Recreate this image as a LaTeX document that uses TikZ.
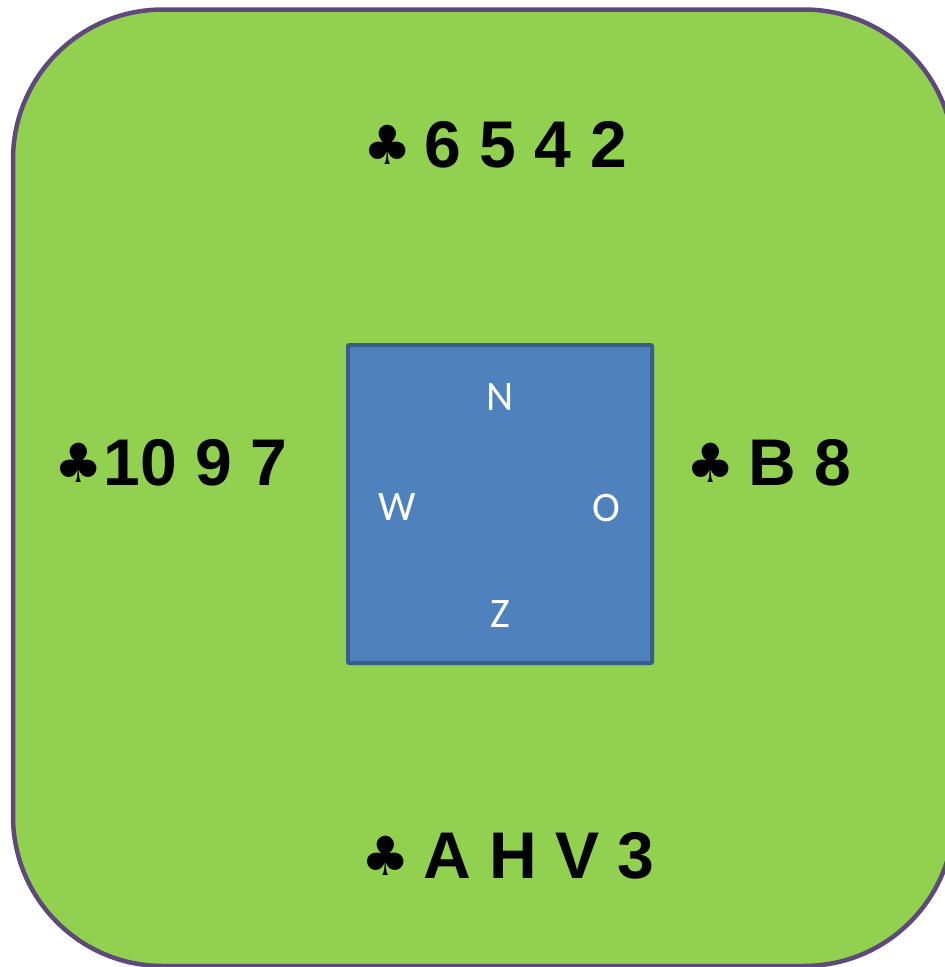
\documentclass[tikz,border=0pt]{standalone}
\usepackage{fontspec}
\setmainfont{Liberation Sans}
\newfontfamily\compassfont{Carlito}
\newfontfamily\suitfont{DejaVu Sans}
\definecolor{feltgreen}{HTML}{92D050}
\definecolor{feltborder}{HTML}{5F497A}
\definecolor{tableblue}{HTML}{4F81BD}
\definecolor{tableborder}{HTML}{385D8A}
\newcommand{\clubsym}{{\suitfont\fontsize{54}{60}\selectfont\raisebox{3pt}{♣}}\kern-5pt}

\begin{document}
\begin{tikzpicture}[x=1pt, y=-1pt,
  hand/.style={inner sep=0pt, anchor=base, font=\bfseries\fontsize{66}{80}\selectfont},
  seat/.style={inner sep=0pt, anchor=base, text=white, font=\compassfont\fontsize{42}{50}\selectfont},
  felt/.style={fill=feltgreen, draw=feltborder, line width=4.5pt, rounded corners=150pt},
  table_sq/.style={fill=tableblue, draw=tableborder, line width=4pt, minimum width=304pt, minimum height=318pt, inner sep=0pt, rounded corners=1pt}]

\useasboundingbox (0,0) rectangle (945,967);
\clip (0,0) rectangle (945,967);

\draw[felt] (13,9.5) rectangle (954,966);

\node[table_sq] (table) at (500,504) {};

\node[seat] (n) at (500,410) {N};
\node[seat] (w) at (397.5,520) {W};
\node[seat] (o) at (606,521) {O};
\node[seat] (z) at (500,627) {Z};

% hands
\node[hand] (north) at (495,167) {\clubsym\ 6 5 4 2};
\node[hand] (west) at (171,485) {\clubsym\kern6pt10 9 7};
\node[hand] (east) at (769,485) {\clubsym\ B 8};
\node[hand] (south) at (508,878) {\clubsym\ A H V 3};

\end{tikzpicture}
\end{document}
